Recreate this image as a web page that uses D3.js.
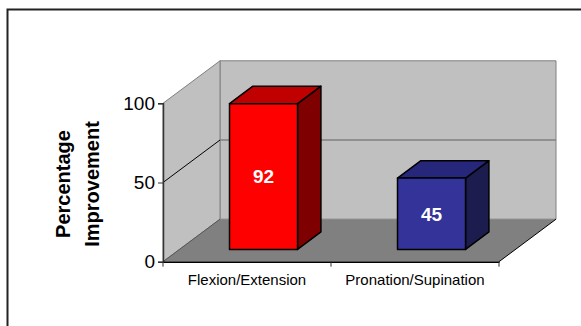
<!DOCTYPE html>
<html>
<head>
<meta charset="utf-8">
<script src="https://cdn.jsdelivr.net/npm/d3@7/dist/d3.min.js"></script>
<style>
  html, body { margin: 0; padding: 0; background: #fff; }
  svg { display: block; font-family: Arial, "Liberation Sans", sans-serif; }
</style>
</head>
<body>
<svg id="chart" width="581" height="326"></svg>
<script>
// Data
const categories = ["Flexion/Extension", "Pronation/Supination"];
const improvement = [92, 45];
const yTicks = [0, 50, 100];
const axisTitle = ["Percentage", "Improvement"];

// Bar colours: front, top, side
const frontColors = ["#ff0000", "#333399"];
const topColors = ["#c00000", "#26267a"];
const sideColors = ["#7f0000", "#1c1c4f"];

const svg = d3.select("#chart");

// Plot frame (front plane)
const x0 = 163, x1 = 499, yBase = 261.7, yTop = 103.3;
// Depth offset of the back wall
const depthX = 57, depthY = -42.5;
// Depth band occupied by the bars (fraction of total depth)
const zFront = 0.29, zBack = 0.70;

const x = d3.scaleBand().domain(categories).range([x0, x1])
  .paddingInner(0.595).paddingOuter(0.2975);
const y = d3.scaleLinear().domain([0, 100]).range([yBase, yTop]);

const P = (px, py, z) => [px + z * depthX, py + z * depthY];
const poly = pts => "M" + pts.map(p => p.join(",")).join("L") + "Z";

// Outer frame
svg.append("rect")
  .attr("x", 7.5).attr("y", 9.5).attr("width", 600).attr("height", 400)
  .attr("fill", "none").attr("stroke", "#222").attr("stroke-width", 2);

const walls = svg.append("g");
// Back wall
walls.append("path")
  .attr("d", poly([P(x0, y(0), 1), P(x1, y(0), 1), P(x1, y(100), 1), P(x0, y(100), 1)]))
  .attr("fill", "#c0c0c0").attr("stroke", "#808080").attr("stroke-width", 1);
// Left side wall
walls.append("path")
  .attr("d", poly([P(x0, y(0), 0), P(x0, y(0), 1), P(x0, y(100), 1), P(x0, y(100), 0)]))
  .attr("fill", "#c0c0c0").attr("stroke", "#808080").attr("stroke-width", 1);
// Floor
walls.append("path")
  .attr("d", poly([P(x0, y(0), 0), P(x1, y(0), 0), P(x1, y(0), 1), P(x0, y(0), 1)]))
  .attr("fill", "#808080").attr("stroke", "none");

// Gridlines (left wall in black, back wall in grey)
yTicks.filter(t => t > 0 && t < 100).forEach(t => {
  walls.append("line")
    .attr("x1", P(x0, y(t), 0)[0]).attr("y1", P(x0, y(t), 0)[1])
    .attr("x2", P(x0, y(t), 1)[0]).attr("y2", P(x0, y(t), 1)[1])
    .attr("stroke", "#000").attr("stroke-width", 1);
  walls.append("line")
    .attr("x1", P(x0, y(t), 1)[0]).attr("y1", P(x0, y(t), 1)[1])
    .attr("x2", P(x1, y(t), 1)[0]).attr("y2", P(x1, y(t), 1)[1])
    .attr("stroke", "#808080").attr("stroke-width", 1.5);
});

// Floor edges
walls.append("line")
  .attr("x1", P(x0, y(0), 0)[0]).attr("y1", P(x0, y(0), 0)[1])
  .attr("x2", P(x0, y(0), 1)[0]).attr("y2", P(x0, y(0), 1)[1])
  .attr("stroke", "#555").attr("stroke-width", 1);
walls.append("line")
  .attr("x1", P(x1, y(0), 0)[0]).attr("y1", P(x1, y(0), 0)[1])
  .attr("x2", P(x1, y(0), 1)[0]).attr("y2", P(x1, y(0), 1)[1])
  .attr("stroke", "#000").attr("stroke-width", 1);

// Bars
const bars = svg.append("g");
categories.forEach((c, i) => {
  const bx0 = x(c), bx1 = x(c) + x.bandwidth();
  const v = improvement[i];
  const g = bars.append("g").attr("stroke", "#000").attr("stroke-width", 1.5).attr("stroke-linejoin", "round");
  // side face
  g.append("path").attr("d", poly([P(bx1, y(0), zFront), P(bx1, y(0), zBack), P(bx1, y(v), zBack), P(bx1, y(v), zFront)]))
    .attr("fill", sideColors[i]);
  // top face
  g.append("path").attr("d", poly([P(bx0, y(v), zFront), P(bx1, y(v), zFront), P(bx1, y(v), zBack), P(bx0, y(v), zBack)]))
    .attr("fill", topColors[i]);
  // front face
  g.append("path").attr("d", poly([P(bx0, y(0), zFront), P(bx1, y(0), zFront), P(bx1, y(v), zFront), P(bx0, y(v), zFront)]))
    .attr("fill", frontColors[i]);
  // value label
  const c0 = P((bx0 + bx1) / 2, (y(0) + y(v)) / 2, zFront);
  svg.append("text")
    .attr("x", c0[0]).attr("y", c0[1])
    .attr("dy", "0.36em")
    .attr("text-anchor", "middle")
    .attr("font-weight", "bold").attr("font-size", 19)
    .attr("fill", "#fff")
    .text(v);
});

// Y axis
const yAxis = d3.axisLeft(y).tickValues(yTicks).tickSize(5).tickPadding(3);
const ya = svg.append("g").attr("transform", `translate(${x0},0)`).call(yAxis);
ya.select(".domain").attr("stroke", "#333").attr("stroke-width", 1.5);
ya.selectAll(".tick line").attr("stroke", "#333");
ya.selectAll(".tick text").attr("font-size", 19).attr("fill", "#000")
  .attr("font-family", "Arial, 'Liberation Sans', sans-serif");

// X axis (front floor edge)
const xAxis = d3.axisBottom(x).tickSize(0).tickPadding(13);
const xa = svg.append("g").attr("transform", `translate(0,${yBase})`).call(xAxis);
xa.select(".domain").attr("stroke", "#000").attr("stroke-width", 1.5);
xa.selectAll(".tick text").attr("font-size", 15).attr("fill", "#000")
  .attr("font-family", "Arial, 'Liberation Sans', sans-serif");
// Category separator ticks
const step = x.step();
[0, 1, 2].forEach(k => {
  xa.append("line")
    .attr("x1", x0 + k * step).attr("x2", x0 + k * step)
    .attr("y1", 0).attr("y2", 5)
    .attr("stroke", "#333").attr("stroke-width", 1);
});

// Axis title
const title = svg.append("text")
  .attr("transform", "translate(70,184) rotate(-90)")
  .attr("text-anchor", "middle")
  .attr("font-weight", "bold").attr("font-size", 20).attr("fill", "#000");
axisTitle.forEach((line, i) => {
  title.append("tspan").attr("x", 0).attr("y", i * 29).text(line);
});
</script>
</body>
</html>
